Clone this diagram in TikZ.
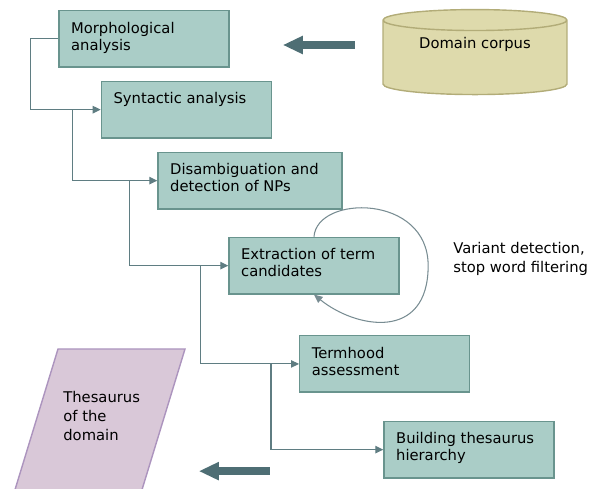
\documentclass[tikz,border=0pt]{standalone}
\usepackage{fontspec}
\setmainfont{DejaVu Sans}
\usetikzlibrary{arrows.meta,shapes.geometric}
\definecolor{stagefill}{RGB}{170,205,199}
\definecolor{stageline}{RGB}{105,148,142}
\definecolor{connline}{RGB}{95,125,130}
\definecolor{bigarrowcol}{RGB}{78,110,116}
\definecolor{corpusfill}{RGB}{222,218,172}
\definecolor{corpusline}{RGB}{178,172,120}
\definecolor{thesfill}{RGB}{217,200,216}
\definecolor{thesline}{RGB}{172,148,190}
\definecolor{loopline}{RGB}{120,140,146}

\begin{document}
\begin{tikzpicture}[x=0.02cm, y=-0.02cm,
    font=\fontsize{8.4}{9.7}\selectfont,
    stage/.style={draw=stageline, line width=0.8pt, fill=stagefill, anchor=north west,
        minimum width=3.4cm, minimum height=1.13cm, inner sep=0pt,
        label={[anchor=north west, align=left, inner xsep=0.25cm, inner ysep=0.23cm]north west:#1}},
    conn/.style={draw=connline, line width=0.6pt, -{Triangle[length=0.16cm,width=0.15cm]}},
    bigarrow/.style={draw=bigarrowcol, line width=0.16cm, -{Triangle[length=0.4cm,width=0.34cm]}}]

    \useasboundingbox (0,0) rectangle (600,489);

    \node[stage={Morphological\\analysis}] (morph) at (58.3,10) {};
    \node[stage={Syntactic analysis}] (synt) at (100.7,80.7) {};
    \node[stage={Disambiguation and\\detection of NPs}, minimum width=3.68cm] (disamb) at (157.3,151.7) {};
    \node[stage={Extraction of term\\candidates}] (extr) at (228.3,236.7) {};
    \node[stage={Termhood\\assessment}] (term) at (299,335) {};
    \node[stage={Building thesaurus\\hierarchy}] (build) at (383.3,420.7) {};

    \node[cylinder, shape border rotate=90, aspect=0.17, draw=corpusline, fill=corpusfill,
        line width=0.8pt, minimum width=3.68cm, minimum height=1.7cm, text depth=0.66cm] (corpus) at (475,59.5) {Domain corpus};

    \filldraw[draw=thesline, fill=thesfill, line width=0.8pt] (58,349) -- (185,349) -- (141,493) -- (14,493) -- cycle;
    \node[anchor=north west, align=left, inner sep=0pt, font=\fontsize{8.4}{10.8}\selectfont] (thes) at (63,391) {Thesaurus\\of the\\domain};

    \node[anchor=north west, align=left, inner sep=0pt, font=\fontsize{8.4}{10.5}\selectfont] (variant) at (453,242) {Variant detection,\\stop word filtering};

    \draw[conn] (morph.west) -- ++(-28,0) |- (synt.west);
    \draw[conn] ([xshift=-0.56cm]synt.west) |- (disamb.west);
    \draw[conn] ([xshift=-0.56cm]disamb.west) |- (extr.west);
    \draw[conn] ([xshift=-0.56cm]extr.west) |- (term.west);
    \draw[conn] ([xshift=-0.56cm]term.west) |- (build.west);

    \draw[draw=loopline, line width=0.6pt, -{Triangle[length=0.17cm,width=0.15cm]}] (extr.north)
        .. controls +(3,-42) and +(0,-72) .. ([xshift=0.57cm]extr.east)
        .. controls +(0,76) and +(42,34) .. (extr.south);

    \draw[bigarrow] ([xshift=-0.55cm,yshift=0.29cm]corpus.west) -- ++(-72,0);
    \draw[bigarrow] ([xshift=-2.27cm,yshift=-0.43cm]build.west) -- ++(-71,0);

\end{tikzpicture}
\end{document}
